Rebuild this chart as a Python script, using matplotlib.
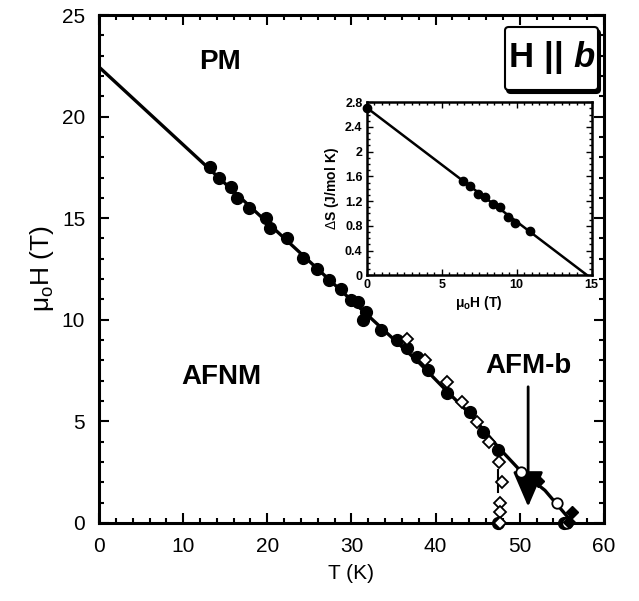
import matplotlib
matplotlib.use("Agg")
import matplotlib.pyplot as plt
from matplotlib.patches import FancyBboxPatch
from matplotlib.ticker import MultipleLocator

plt.rcParams['font.family'] = ['Liberation Sans', 'DejaVu Sans']
plt.rcParams['mathtext.fontset'] = 'custom'
plt.rcParams['mathtext.rm'] = 'Liberation Sans'
plt.rcParams['mathtext.bf'] = 'Liberation Sans:bold'
plt.rcParams['mathtext.it'] = 'Liberation Sans:bold:italic'

# ---- main panel data ----
circ_T = [13.2, 14.25, 15.7, 16.4, 17.8, 19.8, 20.3, 22.3, 24.2, 25.9, 27.3, 28.7,
          30.0, 30.8, 31.7, 31.4, 33.5, 35.4, 36.6, 37.8, 39.1, 41.3, 44.1, 45.6, 47.4, 47.4, 55.3]
circ_H = [17.52, 16.98, 16.54, 15.99, 15.50, 15.01, 14.52, 14.03, 13.04, 12.50, 11.96, 11.52,
          10.97, 10.88, 10.38, 9.99, 9.50, 9.01, 8.61, 8.17, 7.53, 6.40, 5.46, 4.48, 3.59, 0.0, 0.0]

diam_T = [36.6, 38.7, 41.3, 43.1, 44.9, 46.3, 47.5, 47.9, 47.7, 47.7, 47.7]
diam_H = [9.06, 8.02, 6.94, 5.95, 4.97, 3.99, 3.00, 2.00, 0.98, 0.54, 0.0]

ocirc_T = [50.2, 54.4, 55.6]
ocirc_H = [2.50, 0.98, 0.0]

fdiam_T = [52.2, 56.2, 55.8]
fdiam_H = [2.05, 0.52, 0.05]

line_T = [0.0, 38.0, 41.3, 44.0, 47.4, 50.0, 53.0, 56.3]
line_H = [22.44, 7.90, 6.50, 5.40, 3.75, 2.60, 1.60, 0.0]

vseg_T = [47.4, 47.4]
vseg_H = [1.5, 2.6]

# ---- inset data ----
ins_H = [0.0, 6.4, 6.9, 7.4, 7.9, 8.4, 8.9, 9.4, 9.9, 10.9]
ins_S = [2.71, 1.52, 1.45, 1.31, 1.26, 1.15, 1.10, 0.95, 0.85, 0.71]
ins_line_H = [0.0, 14.7]
ins_line_S = [2.71, 0.0]

fig = plt.figure(figsize=(6.39, 6.01), dpi=100)
ax = fig.add_axes([0.155, 0.130, 0.790, 0.845])

ax.plot(line_T, line_H, color='black', lw=2.4, zorder=2)
ax.plot(vseg_T, vseg_H, color='black', lw=1.5, zorder=2)
ax.plot(circ_T, circ_H, 'o', color='black', ms=8.5, zorder=3, clip_on=False)
ax.plot(diam_T, diam_H, 'D', mfc='white', mec='black', mew=1.3, ms=6.3, zorder=4, clip_on=False)
ax.plot(ocirc_T, ocirc_H, 'o', mfc='white', mec='black', mew=1.3, ms=7.5, zorder=4, clip_on=False)
ax.plot(fdiam_T, fdiam_H, 'D', color='black', ms=6.5, zorder=5, clip_on=False)

ax.set_xlim(0, 60)
ax.set_ylim(0, 25)
ax.xaxis.set_major_locator(MultipleLocator(10))
ax.xaxis.set_minor_locator(MultipleLocator(2))
ax.yaxis.set_major_locator(MultipleLocator(5))
ax.yaxis.set_minor_locator(MultipleLocator(1))
ax.tick_params(which='both', direction='in', top=True, right=True, width=1.5)
ax.tick_params(which='major', length=7, labelsize=15, pad=10)
ax.tick_params(which='minor', length=3.5)
for s in ax.spines.values():
    s.set_linewidth(2.2)
ax.set_xlabel('T (K)', fontsize=15, labelpad=6)
ax.set_ylabel('μ$_{\\rm o}$H (T)', fontsize=19, labelpad=4)

ax.text(14.4, 22.7, 'PM', fontsize=20, fontweight='bold', ha='center', va='center')
ax.text(14.5, 7.2, 'AFNM', fontsize=20, fontweight='bold', ha='center', va='center')
ax.text(51.0, 7.7, 'AFM-b', fontsize=20, fontweight='bold', ha='center', va='center')
ax.annotate('', xy=(51.0, 0.8), xytext=(51.0, 6.7),
            arrowprops=dict(arrowstyle='-|>,head_length=2.2,head_width=0.95',
                            color='black', lw=2, shrinkA=0, shrinkB=0))

# H || b box
box = FancyBboxPatch((505 / 639, 1 - 90 / 601), 93 / 639, 63 / 601,
                     boxstyle='round,pad=0,rounding_size=0.006', transform=fig.transFigure,
                     fc='white', ec='black', lw=1.5, zorder=10)
shadow = FancyBboxPatch((507 / 639, 1 - 93 / 601), 93 / 639, 63 / 601,
                        boxstyle='round,pad=0,rounding_size=0.006', transform=fig.transFigure,
                        fc='black', ec='black', lw=1.5, zorder=9)
fig.patches.extend([shadow, box])
fig.text(551.5 / 639, 1 - 57 / 601, r'$\mathbf{H\ ||}\ \mathit{b}$', fontsize=25,
         ha='center', va='center', zorder=11)

# ---- inset ----
ins = fig.add_axes([0.574, 0.542, 0.352, 0.288])
ins.plot(ins_line_H, ins_line_S, color='black', lw=1.8)
ins.plot(ins_H, ins_S, 'o', color='black', ms=6, clip_on=False)
ins.set_xlim(0, 15)
ins.set_ylim(0, 2.8)
ins.xaxis.set_major_locator(MultipleLocator(5))
ins.xaxis.set_minor_locator(MultipleLocator(0.5))
ins.yaxis.set_major_locator(MultipleLocator(0.4))
ins.yaxis.set_minor_locator(MultipleLocator(0.1))
ins.tick_params(which='both', direction='in', top=True, right=True, width=1)
ins.tick_params(which='major', length=4, labelsize=9, pad=3)
ins.tick_params(which='minor', length=2)
for lab in ins.get_xticklabels() + ins.get_yticklabels():
    lab.set_fontweight('bold')
ins.set_yticks([0, 0.4, 0.8, 1.2, 1.6, 2.0, 2.4, 2.8])
ins.set_yticklabels(['0', '0.4', '0.8', '1.2', '1.6', '2', '2.4', '2.8'], fontweight='bold')
for s in ins.spines.values():
    s.set_linewidth(1.8)
ins.set_xlabel(r'$\mathbf{\mu_{o}H}$ (T)', fontsize=10, fontweight='bold', labelpad=2)
ins.set_ylabel(r'$\Delta$S (J/mol K)', fontsize=10, fontweight='bold', labelpad=3)

fig.savefig('out.png', dpi=100)
